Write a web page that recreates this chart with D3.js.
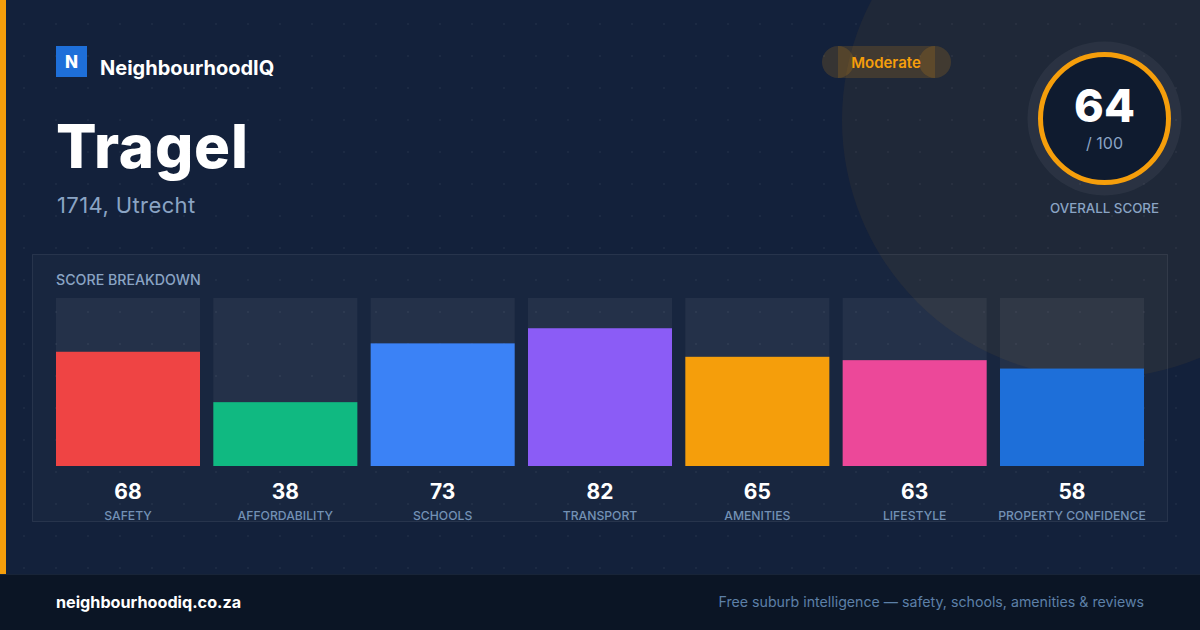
<!DOCTYPE html>
<html>
<head>
<meta charset="utf-8">
<script src="https://cdn.jsdelivr.net/npm/d3@7"></script>
<style>
  html, body { margin: 0; padding: 0; background: #13213b; }
  svg { display: block; font-family: Inter, "Noto Sans", sans-serif; }
</style>
</head>
<body>
<svg id="chart" width="1200" height="630"></svg>
<script>
const categories = ["SAFETY", "AFFORDABILITY", "SCHOOLS", "TRANSPORT", "AMENITIES", "LIFESTYLE", "PROPERTY CONFIDENCE"];
const scores = [68, 38, 73, 82, 65, 63, 58];
const barColors = ["#ef4444", "#10b981", "#3b82f6", "#8b5cf6", "#f59e0b", "#ec4899", "#1e6fd9"];
const overallScore = 64;
const overallMax = 100;
const suburbName = "Tragel";
const suburbSub = "1714, Utrecht";
const ratingLabel = "Moderate";
const brandName = "NeighbourhoodIQ";
const footerLeft = "neighbourhoodiq.co.za";
const footerRight = "Free suburb intelligence — safety, schools, amenities & reviews";

const W = 1200, H = 630;
const svg = d3.select("#chart");
const defs = svg.append("defs");

// dot grid pattern
const pat = defs.append("pattern").attr("id", "dots").attr("width", 32).attr("height", 32)
  .attr("patternUnits", "userSpaceOnUse").attr("x", 8).attr("y", 8);
pat.append("circle").attr("cx", 16).attr("cy", 16).attr("r", 1).attr("fill", "rgba(255,255,255,0.05)");

// background
svg.append("rect").attr("width", W).attr("height", H).attr("fill", "#13213b");
svg.append("rect").attr("width", W).attr("height", 574).attr("fill", "url(#dots)");

// decorative circle
svg.append("circle").attr("cx", 1100).attr("cy", 120).attr("r", 258)
  .attr("fill", "rgba(245,158,11,0.06)");

// left accent stripe
svg.append("rect").attr("x", 0).attr("y", 0).attr("width", 6).attr("height", 574).attr("fill", "#f59e0b");

// brand
svg.append("rect").attr("x", 56).attr("y", 46).attr("width", 31).attr("height", 31).attr("fill", "#1e6fd9");
svg.append("text").attr("x", 71.5).attr("y", 67.5).attr("text-anchor", "middle")
  .attr("fill", "#fff").attr("font-size", 17).attr("font-weight", 800).text("N");
svg.append("text").attr("x", 100).attr("y", 75)
  .attr("fill", "#fff").attr("font-size", 20).attr("font-weight", 700).text(brandName);

// title
svg.append("text").attr("x", 56).attr("y", 168)
  .attr("fill", "#fff").attr("font-size", 60).attr("font-weight", 800).attr("letter-spacing", 0.8).text(suburbName);
svg.append("text").attr("x", 57).attr("y", 213)
  .attr("fill", "#8aa4c4").attr("font-size", 22).attr("font-weight", 400).attr("letter-spacing", 0.4).text(suburbSub);

// rating pill (rect + end caps, translucent)
const pill = svg.append("g").attr("fill", "rgba(245,158,11,0.16)");
pill.append("rect").attr("x", 838).attr("y", 46).attr("width", 97).attr("height", 32);
pill.append("circle").attr("cx", 838).attr("cy", 62).attr("r", 16);
pill.append("circle").attr("cx", 935).attr("cy", 62).attr("r", 16);
svg.append("text").attr("x", 886).attr("y", 67.5).attr("text-anchor", "middle")
  .attr("fill", "#f59e0b").attr("font-size", 15).attr("font-weight", 600).text(ratingLabel);

// overall score ring
const cx = 1104.5, cy = 118.5;
svg.append("circle").attr("cx", cx).attr("cy", cy).attr("r", 77).attr("fill", "rgba(255,255,255,0.05)");
svg.append("circle").attr("cx", cx).attr("cy", cy).attr("r", 64).attr("fill", "#0f1b2f")
  .attr("stroke", "#f59e0b").attr("stroke-width", 5);
svg.append("text").attr("x", cx).attr("y", 122).attr("text-anchor", "middle")
  .attr("fill", "#fff").attr("font-size", 45).attr("font-weight", 800).text(overallScore);
svg.append("text").attr("x", cx).attr("y", 149).attr("text-anchor", "middle")
  .attr("fill", "#8aa4c4").attr("font-size", 16).text("/ " + overallMax);
svg.append("text").attr("x", cx).attr("y", 213).attr("text-anchor", "middle")
  .attr("fill", "#8aa4c4").attr("font-size", 13.3).attr("font-weight", 500).text("OVERALL SCORE");

// breakdown panel
svg.append("rect").attr("x", 32.5).attr("y", 254.5).attr("width", 1135).attr("height", 267)
  .attr("fill", "rgba(255,255,255,0.025)").attr("stroke", "rgba(255,255,255,0.08)").attr("stroke-width", 1);
svg.append("text").attr("x", 56).attr("y", 285)
  .attr("fill", "#8aa4c4").attr("font-size", 14.2).attr("font-weight", 500).text("SCORE BREAKDOWN");

const x = d3.scaleBand().domain(categories).range([56, 1144]).paddingInner(0.0847).paddingOuter(0);
const y = d3.scaleLinear().domain([0, 100]).range([466, 298]);

const cols = svg.append("g").selectAll("g").data(categories).join("g");
cols.append("rect").attr("x", d => x(d)).attr("y", y(100)).attr("width", x.bandwidth())
  .attr("height", y(0) - y(100)).attr("fill", "rgba(255,255,255,0.055)");
cols.append("rect").attr("x", d => x(d)).attr("y", (d, i) => y(scores[i])).attr("width", x.bandwidth())
  .attr("height", (d, i) => y(0) - y(scores[i])).attr("fill", (d, i) => barColors[i]);
cols.append("text").attr("x", d => x(d) + x.bandwidth() / 2).attr("y", 499).attr("text-anchor", "middle")
  .attr("fill", "#fff").attr("font-size", 21).attr("font-weight", 700).text((d, i) => scores[i]);
cols.append("text").attr("x", d => x(d) + x.bandwidth() / 2).attr("y", 520).attr("text-anchor", "middle")
  .attr("fill", "#7391b5").attr("font-size", 12.2).attr("font-weight", 500).text(d => d);

// footer
svg.append("rect").attr("x", 0).attr("y", 574).attr("width", W).attr("height", 56).attr("fill", "#0b1525");
svg.append("line").attr("x1", 0).attr("x2", W).attr("y1", 574.5).attr("y2", 574.5).attr("stroke", "#182438");
svg.append("text").attr("x", 56).attr("y", 608)
  .attr("fill", "#fff").attr("font-size", 16.2).attr("font-weight", 700).text(footerLeft);
svg.append("text").attr("x", 1144).attr("y", 607).attr("text-anchor", "end")
  .attr("fill", "#5d80a8").attr("font-size", 14.2).text(footerRight);
</script>
</body>
</html>
